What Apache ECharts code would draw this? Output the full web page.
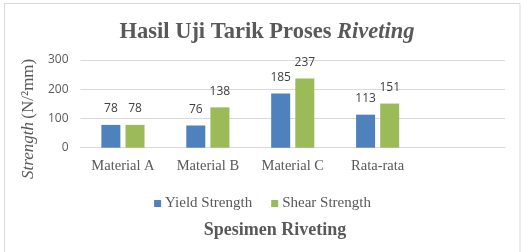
<!DOCTYPE html>
<html><head><meta charset="utf-8">
<script src="https://cdn.jsdelivr.net/npm/echarts@6/dist/echarts.min.js"></script>
<style>html,body{margin:0;padding:0;background:#fff}#c{width:525px;height:252px}</style>
</head><body><div id="c"></div>
<script>
const categories = ['Material A', 'Material B', 'Material C', 'Rata-rata', ''];
const yieldStrength = [78, 76, 185, 113, null];
const shearStrength = [78, 138, 237, 151, null];
const yTicks = [0, 100, 200, 300];
const seriesNames = ['Yield Strength', 'Shear Strength'];

const serif = '"Liberation Serif", "Times New Roman", serif';
const sans = '"Open Sans", "Liberation Sans", sans-serif';
const chart = echarts.init(document.getElementById('c'), null, {renderer: 'canvas'});
const lbl = {show: true, position: 'top', distance: 10, color: '#404040', fontFamily: sans, fontSize: 12};
chart.setOption({
  animation: false,
  graphic: [{type: 'rect', shape: {x: 4.5, y: 3.5, width: 515.5, height: 260}, style: {fill: 'none', stroke: '#d9d9d9', lineWidth: 1}, silent: true}],
  title: [{
    text: '{b|Hasil Uji Tarik Proses }{i|Riveting}',
    left: 262, top: 16, textAlign: 'center',
    textStyle: {rich: {
      b: {fontFamily: serif, fontWeight: 'bold', fontSize: 22.5, color: '#595959'},
      i: {fontFamily: serif, fontWeight: 'bold', fontStyle: 'italic', fontSize: 22.5, color: '#595959'}
    }}
  }, {
    text: 'Spesimen Riveting', left: 270, top: 216, textAlign: 'center',
    textStyle: {fontFamily: serif, fontWeight: 'bold', fontSize: 18, color: '#595959'}
  }],
  legend: {
    data: seriesNames, left: 'center', top: 191, itemWidth: 7, itemHeight: 7, itemGap: 19,
    icon: 'rect', textStyle: {fontFamily: serif, fontSize: 15, color: '#595959', padding: [0, 0, 0, -1]}
  },
  grid: {left: 80.5, right: 20, top: 60, bottom: 104.3},
  xAxis: {
    type: 'category', data: categories,
    axisLine: {lineStyle: {color: '#d9d9d9'}}, axisTick: {show: false},
    axisLabel: {fontFamily: serif, fontSize: 14.5, color: '#595959', margin: 11, interval: 0}
  },
  yAxis: {
    type: 'value', min: 0, max: 300, interval: 100,
    axisLabel: {fontFamily: sans, fontSize: 12, color: '#595959', margin: 12,
      formatter: v => yTicks.includes(v) ? String(v) : ''},
    splitLine: {lineStyle: {color: '#d9d9d9'}},
    axisLine: {show: false}, axisTick: {show: false},
    name: '{i|Strength} {n|(N/²mm)}', nameLocation: 'middle', nameGap: 33, nameRotate: 90,
    nameTextStyle: {padding: [0, 30, 0, 0], rich: {
      i: {fontFamily: serif, fontStyle: 'italic', fontSize: 17, color: '#595959'},
      n: {fontFamily: serif, fontSize: 17, color: '#595959'}
    }}
  },
  series: [
    {name: seriesNames[0], type: 'bar', data: yieldStrength, barWidth: 19, barGap: '27%', itemStyle: {color: '#4f81bd'}, label: lbl},
    {name: seriesNames[1], type: 'bar', data: shearStrength, barWidth: 19, barGap: '27%', itemStyle: {color: '#9bbb59'}, label: lbl}
  ]
});
</script></body></html>
